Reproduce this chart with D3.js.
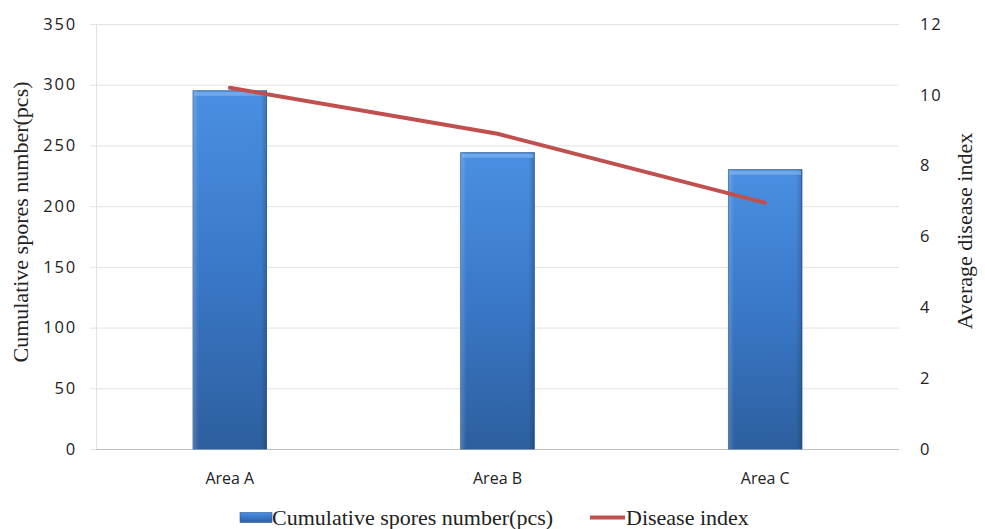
<!DOCTYPE html>
<html><head><meta charset="utf-8">
<script src="https://cdnjs.cloudflare.com/ajax/libs/d3/7.8.5/d3.min.js"></script>
<style>body{margin:0;background:#fff}svg{display:block}</style>
</head><body>
<svg id="c" width="985" height="529"></svg>
<script>
const categories = ["Area A", "Area B", "Area C"];
const sporeValues = [295, 244, 230];
const diseaseIndex = [10.2, 8.9, 6.95];
const leftTicks = [0, 50, 100, 150, 200, 250, 300, 350];
const rightTicks = [0, 2, 4, 6, 8, 10, 12];
const seriesNames = ["Cumulative spores number(pcs)", "Disease index"];

const svg = d3.select("#c");
const m = {l: 96, r: 899, t: 24, b: 449};
const x = d3.scaleBand().domain(categories).range([m.l, m.r]).paddingInner(0.725).paddingOuter(0.3625);
const yL = d3.scaleLinear().domain([0, 350]).range([m.b, m.t]);
const yR = d3.scaleLinear().domain([0, 12]).range([m.b, m.t]);

const defs = svg.append("defs");
const g = defs.append("linearGradient").attr("id", "barg").attr("x1", 0).attr("y1", 0).attr("x2", 0).attr("y2", 1);
g.append("stop").attr("offset", "0%").attr("stop-color", "#4a8fe2");
g.append("stop").attr("offset", "50%").attr("stop-color", "#3a78c8");
g.append("stop").attr("offset", "100%").attr("stop-color", "#2d5f9e");
const gs = defs.append("linearGradient").attr("id", "bars").attr("x1", 0).attr("y1", 0).attr("x2", 1).attr("y2", 0);
gs.append("stop").attr("offset", "0%").attr("stop-color", "#fff").attr("stop-opacity", 0.18);
gs.append("stop").attr("offset", "8%").attr("stop-color", "#fff").attr("stop-opacity", 0);
gs.append("stop").attr("offset", "92%").attr("stop-color", "#000").attr("stop-opacity", 0);
gs.append("stop").attr("offset", "100%").attr("stop-color", "#000").attr("stop-opacity", 0.18);

// gridlines
svg.append("g").selectAll("line").data(leftTicks).join("line")
  .attr("x1", m.l).attr("x2", m.r).attr("y1", d => yL(d) + 0.5).attr("y2", d => yL(d) + 0.5)
  .attr("stroke", d => d === 0 ? "#bfbfbf" : "#e3e3e3").attr("stroke-width", 1);
svg.append("line").attr("x1", m.l + 0.5).attr("x2", m.l + 0.5).attr("y1", m.t).attr("y2", m.b)
  .attr("stroke", "#e3e3e3");
svg.append("g").selectAll("line").data(leftTicks).join("line")
  .attr("x1", m.l - 6).attr("x2", m.l).attr("y1", d => yL(d) + 0.5).attr("y2", d => yL(d) + 0.5)
  .attr("stroke", "#e3e3e3");

// tick labels
const tickFont = "'Open Sans', 'Liberation Sans', sans-serif";
svg.append("g").selectAll("text").data(leftTicks).join("text")
  .attr("x", 77).attr("y", d => yL(d)).attr("dy", "0.35em").attr("text-anchor", "end")
  .attr("font-family", tickFont).attr("font-size", 16.5).attr("letter-spacing", 1.8).attr("fill", "#222").text(d => d);
svg.append("g").selectAll("text").data(rightTicks).join("text")
  .attr("x", 920).attr("y", d => yR(d)).attr("dy", "0.35em").attr("text-anchor", "start")
  .attr("font-family", tickFont).attr("font-size", 16.5).attr("letter-spacing", 1.8).attr("fill", "#222").text(d => d);
svg.append("g").selectAll("text").data(categories).join("text")
  .attr("x", d => x(d) + x.bandwidth() / 2).attr("y", 478).attr("dy", "0.35em").attr("text-anchor", "middle")
  .attr("font-family", tickFont).attr("font-size", 16).attr("fill", "#222").text(d => d);

// axis titles
const serif = "'Liberation Serif', 'DejaVu Serif', serif";
svg.append("text").attr("transform", "translate(20,222) rotate(-90)").attr("text-anchor", "middle").attr("dy", "0.35em")
  .attr("font-family", serif).attr("font-size", 22).attr("fill", "#222").text("Cumulative spores number(pcs)");
svg.append("text").attr("transform", "translate(964,231) rotate(-90)").attr("text-anchor", "middle").attr("dy", "0.35em")
  .attr("font-family", serif).attr("font-size", 22).attr("fill", "#222").text("Average disease index");

// bars
const bars = svg.append("g").selectAll("g").data(categories).join("g");
bars.append("rect").attr("x", d => x(d)).attr("width", x.bandwidth())
  .attr("y", (d, i) => yL(sporeValues[i])).attr("height", (d, i) => yL(0) - yL(sporeValues[i]))
  .attr("fill", "url(#barg)").attr("stroke", "#2a5a96").attr("stroke-width", 0.8);
bars.append("rect").attr("x", d => x(d)).attr("width", x.bandwidth())
  .attr("y", (d, i) => yL(sporeValues[i])).attr("height", (d, i) => yL(0) - yL(sporeValues[i]))
  .attr("fill", "url(#bars)");
bars.append("rect").attr("x", d => x(d) + 1).attr("width", x.bandwidth() - 2)
  .attr("y", (d, i) => yL(sporeValues[i]) + 1).attr("height", 4)
  .attr("fill", "#7fb3ef").attr("opacity", 0.7);

// line
const line = d3.line().x((d, i) => x(categories[i]) + x.bandwidth() / 2).y(d => yR(d));
svg.append("path").datum(diseaseIndex).attr("d", line).attr("fill", "none")
  .attr("stroke", "#c0504d").attr("stroke-width", 4).attr("stroke-linecap", "round");

// legend
const lg = svg.append("g");
lg.append("rect").attr("x", 240).attr("y", 512.5).attr("width", 32).attr("height", 10).attr("fill", "url(#barg)").attr("stroke", "#2a5a96").attr("stroke-width", 0.6);
lg.append("text").attr("x", 272).attr("y", 525).attr("font-family", serif).attr("font-size", 22).attr("fill", "#222").text(seriesNames[0]);
lg.append("line").attr("x1", 590).attr("x2", 625).attr("y1", 517.5).attr("y2", 517.5).attr("stroke", "#c0504d").attr("stroke-width", 4);
lg.append("text").attr("x", 626).attr("y", 525).attr("font-family", serif).attr("font-size", 22).attr("fill", "#222").text(seriesNames[1]);
</script>
</body></html>
